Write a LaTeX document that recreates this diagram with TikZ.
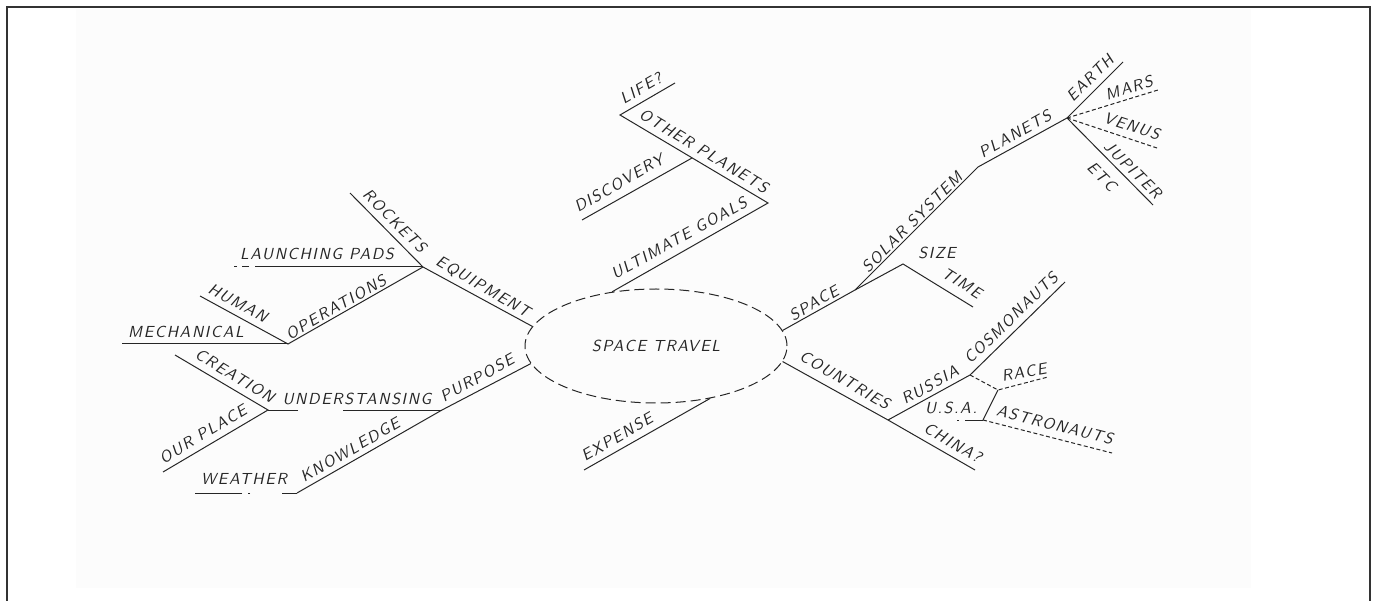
\documentclass[tikz,border=0pt]{standalone}
\usepackage{fontspec}
\newfontfamily\hand{lmsans10-oblique.otf}[LetterSpace=10]
\usetikzlibrary{shapes.geometric}
\begin{document}
\begin{tikzpicture}[x=1pt,y=-1pt,
  br/.style={line width=1pt, draw=black!85},
  dsh/.style={br, dash pattern=on 4pt off 2.5pt},
  lbl/.style={font=\hand\fontsize{16}{18}\selectfont, text=black!85, inner sep=0pt}]
\useasboundingbox (0,0) rectangle (1376,601);
\fill[white] (0,0) rectangle (1376,601);
\fill[black!1.2] (76,9) rectangle (1251,588);
\draw[line width=2.2pt, draw=black!80] (7,601) -- (7,7) -- (1370,7) -- (1370,601);

% central ellipse
\node[lbl, ellipse, draw=black!85, line width=1pt, dash pattern=on 10pt off 5pt,
      minimum width=262pt, minimum height=114pt] (st) at (656,346) {SPACE TRAVEL};

% junctions and ends
\coordinate (J1) at (423,267);
\coordinate (rocketsEnd) at (350,193);
\coordinate (padsEnd) at (232,267);
\coordinate (J2) at (288,344);
\coordinate (humanEnd) at (200,296);
\coordinate (mechEnd) at (122,344);
\coordinate (J3) at (442,410);
\coordinate (J4) at (268,410);
\coordinate (creationEnd) at (175,355);
\coordinate (placeEnd) at (163,472);
\coordinate (J5) at (297,493);
\coordinate (weatherEnd) at (195,493);
\coordinate (J6) at (768,203);
\coordinate (J7) at (620,115);
\coordinate (lifeEnd) at (675,83);
\coordinate (J8) at (692,158);
\coordinate (discEnd) at (582,220);
\coordinate (expEnd) at (584,470);
\coordinate (J9) at (855,290);
\coordinate (J10) at (978,167);
\coordinate (J11) at (1067,118);
\coordinate (earthEnd) at (1123,62);
\coordinate (marsEnd) at (1158,90);
\coordinate (venusEnd) at (1157,148);
\coordinate (jupEnd) at (1153,205);
\coordinate (J12) at (903,264);
\coordinate (timeEnd) at (973,307);
\coordinate (J13) at (888,420);
\coordinate (chinaEnd) at (975,470);
\coordinate (J14) at (970,375);
\coordinate (cosEnd) at (1065,282);
\coordinate (J15) at (998,390);
\coordinate (raceEnd) at (1048,377);
\coordinate (J16) at (983,420);
\coordinate (astEnd) at (1112,453);
\coordinate (usaEnd) at (955,420);

% connectors
\draw[br] (st.171) -- (J1) -- (rocketsEnd);
\draw[br, dash pattern=on 168pt off 6pt on 7pt off 5pt on 3pt] (J1) -- (padsEnd);
\draw[br] (J1) -- (J2) -- (humanEnd);
\draw[br] (J2) -- (mechEnd);
\draw[br] (st.188) -- (J3) -- (J5);
\draw[br, dash pattern=on 99pt off 45pt on 30pt] (J3) -- (J4);
\draw[br] (creationEnd) -- (J4) -- (placeEnd);
\draw[br, dash pattern=on 15pt off 32pt on 2pt off 6pt on 47pt] (J5) -- (weatherEnd);
\draw[br] (st.129) -- (J6) -- (J7) -- (lifeEnd);
\draw[br] (J8) -- (discEnd);
\draw[br] (st.316) -- (expEnd);
\draw[br] (st.7) -- (J9) -- (J10) -- (J11) -- (earthEnd);
\draw[dsh] (J11) -- (marsEnd);
\draw[dsh] (J11) -- (venusEnd);
\draw[br] (J11) -- (jupEnd);
\draw[br] (J9) -- (J12) -- (timeEnd);
\draw[br] (st.353) -- (J13) -- (chinaEnd);
\draw[br] (J13) -- (J14) -- (cosEnd);
\draw[dsh] (J14) -- (J15) -- (raceEnd);
\draw[br] (J15) -- (J16);
\draw[dsh] (J16) -- (astEnd);
\draw[br, dash pattern=on 18pt off 6pt on 2pt] (J16) -- (usaEnd);

% labels
\node[lbl] (tPads) at (317,254) {LAUNCHING PADS};
\node[lbl, rotate=-45] (tRockets) at (395,221) {ROCKETS};
\node[lbl, rotate=-30] (tEquip) at (483,287) {EQUIPMENT};
\node[lbl, rotate=30] (tOper) at (336,307) {OPERATIONS};
\node[lbl, rotate=-29] (tHuman) at (238,303) {HUMAN};
\node[lbl] (tMech) at (186,332) {MECHANICAL};
\node[lbl, rotate=-31] (tCreation) at (235,376) {CREATION};
\node[lbl, rotate=31] (tPlace) at (203,434) {OUR PLACE};
\node[lbl] (tUnder) at (357,399) {UNDERSTANSING};
\node[lbl, rotate=29] (tPurpose) at (477,378) {PURPOSE};
\node[lbl, rotate=30] (tKnow) at (350,450) {KNOWLEDGE};
\node[lbl] (tWeather) at (244,479) {WEATHER};
\node[lbl, rotate=30] (tLife) at (641,88) {LIFE?};
\node[lbl, rotate=-31] (tOther) at (704,151) {OTHER PLANETS};
\node[lbl, rotate=30] (tDisc) at (619,183) {DISCOVERY};
\node[lbl, rotate=29] (tGoals) at (679,238) {ULTIMATE GOALS};
\node[lbl, rotate=30] (tExp) at (617,437) {EXPENSE};
\node[lbl, rotate=30] (tSpace) at (814,303) {SPACE};
\node[lbl, rotate=45] (tSolar) at (912,222) {SOLAR SYSTEM};
\node[lbl, rotate=29] (tPlanets) at (1015,134) {PLANETS};
\node[lbl, rotate=45] (tEarth) at (1090,78) {EARTH};
\node[lbl, rotate=17] (tMars) at (1129,88) {MARS};
\node[lbl, rotate=-18] (tVenus) at (1132,126) {VENUS};
\node[lbl, rotate=-45] (tJup) at (1133,170) {JUPITER};
\node[lbl, rotate=-45] (tEtc) at (1102,177) {ETC};
\node[lbl] (tSize) at (937,253) {SIZE};
\node[lbl, rotate=-32] (tTime) at (962,283) {TIME};
\node[lbl, rotate=-30] (tCountries) at (845,380) {COUNTRIES};
\node[lbl, rotate=-30] (tChina) at (953,443) {CHINA?};
\node[lbl, rotate=29] (tRussia) at (930,385) {RUSSIA};
\node[lbl, rotate=44] (tCosmo) at (1011,318) {COSMONAUTS};
\node[lbl, rotate=10] (tRace) at (1024,372) {RACE};
\node[lbl] (tUSA) at (951,408) {U.S.A.};
\node[lbl, rotate=-14] (tAstro) at (1055,425) {ASTRONAUTS};
\end{tikzpicture}
\end{document}
